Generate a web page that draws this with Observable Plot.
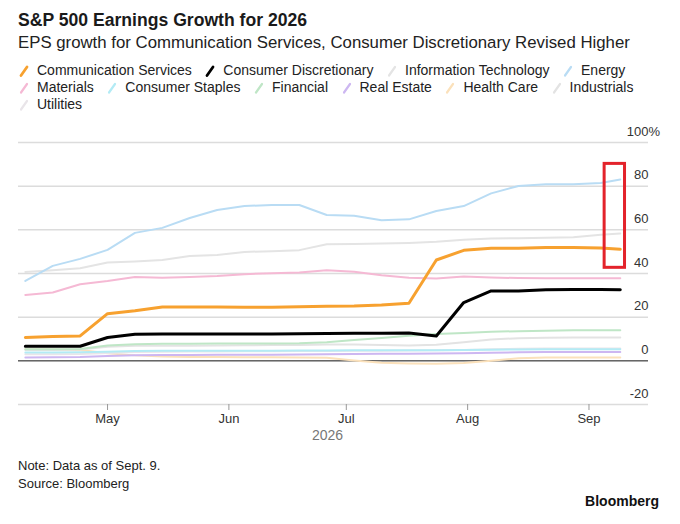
<!DOCTYPE html>
<html><head><meta charset="utf-8">
<script src="https://cdn.jsdelivr.net/npm/d3@7"></script>
<script src="https://cdn.jsdelivr.net/npm/@observablehq/plot@0.6"></script>
<style>
body{margin:0;width:680px;height:524px;position:relative;font-family:"Liberation Sans",Arial,sans-serif;color:#1a1a1a;background:#fff;overflow:hidden}
#title{position:absolute;left:18px;top:10px;font-size:17.6px;font-weight:bold;line-height:20px;white-space:nowrap}
#subtitle{position:absolute;left:18px;top:33px;font-size:16.8px;line-height:20px;white-space:nowrap;color:#222}
#legend{position:absolute;left:19px;top:62px;width:650px;display:flex;flex-wrap:wrap;column-gap:13.5px;font-size:14px;line-height:17px;color:#222}
.item{display:flex;align-items:center;white-space:nowrap}
.item svg{margin-right:8px}
#chart{position:absolute;left:0;top:118px}
#note{position:absolute;left:18px;top:457px;font-size:13px;line-height:17.5px;color:#222}
#logo{position:absolute;right:21px;top:491px;font-size:14px;line-height:20px;font-weight:bold;color:#111}
</style></head>
<body>
<div id="title">S&amp;P 500 Earnings Growth for 2026</div>
<div id="subtitle">EPS growth for Communication Services, Consumer Discretionary Revised Higher</div>
<div id="legend"></div>
<div id="chart"></div>
<div id="note">Note: Data as of Sept. 9.<br>Source: Bloomberg</div>
<div id="logo">Bloomberg</div>
<script>
// ---- Data ----
const dates = ["2025-04-10","2025-04-17","2025-04-24","2025-05-01","2025-05-08","2025-05-15","2025-05-22","2025-05-29",
  "2025-06-05","2025-06-12","2025-06-19","2025-06-26","2025-07-03","2025-07-10","2025-07-17","2025-07-24","2025-07-31",
  "2025-08-07","2025-08-14","2025-08-21","2025-08-28","2025-09-04","2025-09-09"];

const seriesNames = ["Communication Services","Consumer Discretionary","Information Technology","Energy","Materials",
  "Consumer Staples","Financial","Real Estate","Health Care","Industrials","Utilities"];
const seriesColors = ["#f7a12f","#000000","#e4e4e4","#b9dcf4","#f5b9d4","#b3ebf5","#bfe6c6","#cdb7f1","#fbe1bb","#e3e3e3","#e9e5e9"];

const commServices = [10.7,11.1,11.4,21.6,22.9,24.7,24.7,24.7,24.5,24.5,24.8,25.0,25.1,25.6,26.4,46.2,50.6,51.6,51.6,51.9,51.9,51.7,51.1];
const consDiscretionary = [6.7,6.7,6.7,10.7,12.2,12.3,12.3,12.3,12.3,12.3,12.4,12.5,12.6,12.6,12.7,11.4,26.7,32.0,32.0,32.6,32.7,32.7,32.6];
const infoTech = [40.7,41.5,42.4,45.0,45.5,46.2,48.0,48.5,49.9,50.2,50.7,53.4,53.5,53.7,54.0,54.5,55.5,56.0,56.2,56.4,56.6,57.8,58.3];
const energy = [36.6,43.5,46.7,50.8,58.6,60.9,65.4,69.1,70.9,71.4,71.4,66.8,66.4,64.4,64.8,68.6,70.9,76.7,80.1,80.9,80.9,81.5,83.1];
const materials = [30.2,31.3,35.1,36.6,38.4,38.1,38.4,38.9,39.7,40.1,40.5,41.5,40.8,39.2,38.1,37.7,38.6,38.2,37.9,37.8,37.8,37.8,37.8];
const consStaples = [3.8,3.8,3.9,4.2,4.5,4.6,4.6,4.6,4.6,4.6,4.7,4.7,4.8,4.8,4.9,4.9,5.0,5.1,5.2,5.3,5.3,5.3,5.3];
const financial = [5.3,5.3,5.4,7.0,7.6,7.8,7.8,7.9,7.9,7.9,8.0,8.5,9.5,10.5,11.5,12.3,12.8,13.3,13.6,13.8,14.0,14.0,14.0];
const realEstate = [1.5,1.6,1.7,2.2,2.6,2.7,2.7,2.8,2.8,2.8,2.9,3.0,3.1,3.2,3.3,3.4,3.5,3.7,3.9,4.0,4.1,4.1,4.1];
const healthCare = [5.3,5.2,5.0,3.5,2.5,2.0,1.8,1.7,1.6,1.6,1.5,1.4,0.2,-0.9,-1.2,-1.3,-1.0,0.0,1.2,1.5,1.5,1.5,1.5];
const industrials = [5.0,5.0,5.2,6.5,6.9,6.9,6.9,7.0,7.1,7.2,7.3,7.5,7.5,7.2,7.0,7.4,8.5,9.8,10.4,10.6,10.7,10.7,10.7];
const utilities = [3.0,3.0,3.1,3.6,4.0,4.2,4.3,4.3,4.4,4.4,4.5,4.5,4.6,4.6,4.7,4.8,5.0,5.3,5.5,5.6,5.7,5.7,5.7];

const seriesValues = [commServices,consDiscretionary,infoTech,energy,materials,consStaples,financial,realEstate,healthCare,industrials,utilities];

const yTicks = [-20,0,20,40,60,80,100];
const monthTicks = ["2025-05-01","2025-06-01","2025-07-01","2025-08-01","2025-09-01"];
const monthLabels = ["May","Jun","Jul","Aug","Sep"];
const axisTitle = "2026";
const xDomain = ["2025-04-08T06:00Z","2025-09-16T05:00Z"];
// highlight box around latest values
const highlight = [{x1:"2025-09-05T00:00Z", x2:"2025-09-10T05:00Z", y1:42.6, y2:90.2}];

// ---- Build ----
const parse = s => new Date(s.length === 10 ? s + "T00:00Z" : s);
const rowsFor = i => dates.map((d, j) => ({date: parse(d), value: seriesValues[i][j], series: seriesNames[i]}));

// legend
const legend = document.getElementById("legend");
seriesNames.forEach((name, i) => {
  const it = document.createElement("div");
  it.className = "item";
  const w = i < 2 ? 2.8 : 2.2;
  it.innerHTML = `<svg width="10" height="14" viewBox="0 0 10 14"><line x1="2" y1="11.5" x2="8" y2="3" stroke="${seriesColors[i]}" stroke-width="${w}" stroke-linecap="round"/></svg><span>${name}</span>`;
  legend.appendChild(it);
});

// draw order: faint series first, highlighted series last
const order = [8,7,10,5,9,6,4,2,3,0,1];
const lineMarks = order.map(i => Plot.line(rowsFor(i), {
  x: "date", y: "value", stroke: seriesColors[i],
  strokeWidth: i < 2 ? 3 : 2, strokeLinejoin: "round", strokeLinecap: "round"
}));

const chart = Plot.plot({
  width: 680, height: 326,
  marginTop: 24, marginBottom: 40, marginLeft: 18, marginRight: 32,
  x: {type: "utc", domain: xDomain.map(parse)},
  y: {domain: [-20, 100], axis: null},
  style: {fontFamily: "'Liberation Sans', Arial, sans-serif", fontSize: "13px", color: "#333", background: "transparent", overflow: "visible"},
  marks: [
    Plot.ruleY(yTicks, {stroke: "#dcdcdc", strokeWidth: 1.5}),
    Plot.ruleY([0], {stroke: "#666", strokeWidth: 1.5}),
    ...lineMarks,
    Plot.rect(highlight, {x1: d => parse(d.x1), x2: d => parse(d.x2), y1: "y1", y2: "y2", fill: "none", stroke: "#e3232b", strokeWidth: 3}),
    Plot.text(yTicks, {y: d => d, text: d => String(d), frameAnchor: "right", textAnchor: "end", dy: -11, fill: "#333"}),
    Plot.text([100], {y: d => d, text: () => "%", frameAnchor: "right", textAnchor: "start", dy: -11, fill: "#333"}),
    Plot.axisX({ticks: monthTicks.map(parse), tickFormat: (d, i) => monthLabels[i], tickSize: 6, tickPadding: 3, label: null, stroke: "#999", fill: "#333"}),
    Plot.text([axisTitle], {text: d => d, frameAnchor: "bottom", dx: -6, dy: 35, fill: "#777", fontSize: 14})
  ]
});
document.getElementById("chart").appendChild(chart);
</script>
</body></html>
